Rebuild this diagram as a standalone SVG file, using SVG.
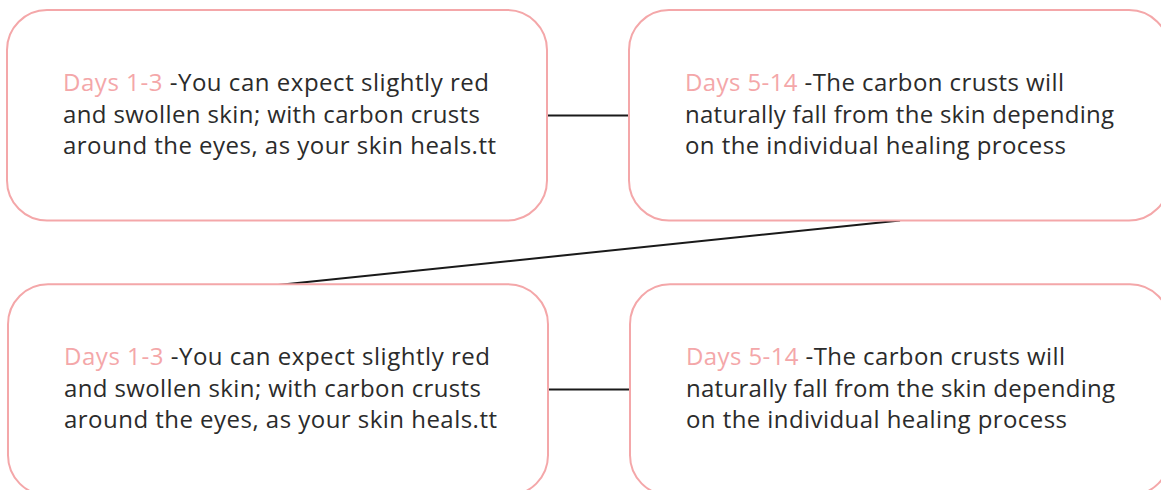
<svg xmlns="http://www.w3.org/2000/svg" width="1161" height="490" viewBox="0 0 1161 490">
<style>
.box{fill:#ffffff;stroke:#f4a7a9;stroke-width:2}
.t{font-family:"Open Sans","Liberation Sans",sans-serif;font-size:24px;fill:#2b2b2b}
.hl{fill:#f4a7a9}
.c{stroke:#1a1a1a;stroke-width:2;fill:none}
</style>
<rect width="1161" height="490" fill="#ffffff"/>
<g id="connectors">
<line class="c" x1="547" y1="115.5" x2="629" y2="115.5"/>
<line class="c" x1="900" y1="220.5" x2="278" y2="285"/>
<line class="c" x1="548" y1="389.5" x2="630" y2="389.5"/>
</g>
<g id="node1">
<rect class="box" x="7" y="10" width="540" height="210.5" rx="40"/>
<text class="t" x="63" y="91" textLength="426" lengthAdjust="spacing"><tspan class="hl">Days 1-3</tspan> -You can expect slightly red</text>
<text class="t" x="63" y="122.5" textLength="417" lengthAdjust="spacing">and swollen skin; with carbon crusts</text>
<text class="t" x="63" y="154" textLength="433" lengthAdjust="spacing">around the eyes, as your skin heals.tt</text>
</g>
<g id="node2">
<rect class="box" x="629" y="10" width="540" height="210.5" rx="40"/>
<text class="t" x="685" y="91" textLength="379" lengthAdjust="spacing"><tspan class="hl">Days 5-14</tspan> -The carbon crusts will</text>
<text class="t" x="685" y="122.5" textLength="429" lengthAdjust="spacing">naturally fall from the skin depending</text>
<text class="t" x="685" y="154" textLength="381" lengthAdjust="spacing">on the individual healing process</text>
</g>
<g id="node3">
<rect class="box" x="8" y="284.3" width="540" height="211" rx="40"/>
<text class="t" x="64" y="365" textLength="426" lengthAdjust="spacing"><tspan class="hl">Days 1-3</tspan> -You can expect slightly red</text>
<text class="t" x="64" y="396.5" textLength="417" lengthAdjust="spacing">and swollen skin; with carbon crusts</text>
<text class="t" x="64" y="428" textLength="433" lengthAdjust="spacing">around the eyes, as your skin heals.tt</text>
</g>
<g id="node4">
<rect class="box" x="630" y="284.3" width="540" height="211" rx="40"/>
<text class="t" x="686" y="365" textLength="379" lengthAdjust="spacing"><tspan class="hl">Days 5-14</tspan> -The carbon crusts will</text>
<text class="t" x="686" y="396.5" textLength="429" lengthAdjust="spacing">naturally fall from the skin depending</text>
<text class="t" x="686" y="428" textLength="381" lengthAdjust="spacing">on the individual healing process</text>
</g>
</svg>
